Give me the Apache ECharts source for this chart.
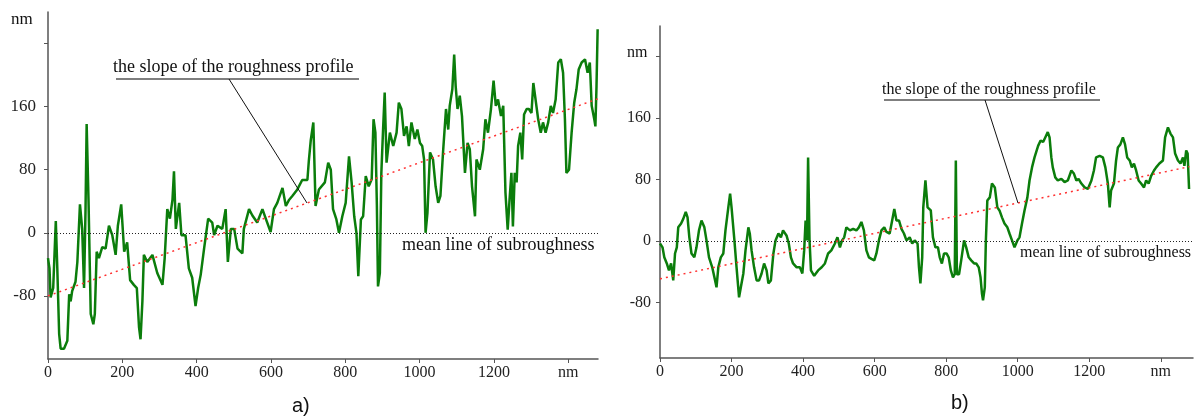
<!DOCTYPE html>
<html>
<head>
<meta charset="utf-8">
<style>
html, body { margin: 0; background: #fff; }
#container { width: 1198px; height: 419px; }
</style>
</head>
<body>
<div id="container"></div>
<script src="https://cdn.jsdelivr.net/npm/echarts@6/dist/echarts.min.js"></script>
<script>
// profile a), nm along / nm height
var profileA = [
  [0,-32],[4,-45],[7,-82],[14,-70],[21,15],[25,-45],[30,-128],[34,-147],[43,-147],[52,-137],
  [57,-78],[61,-87],[65,-74],[74,-62],[79,-37],[86,36],[92,5],[97,-70],[101,30],[104,138],
  [109,42],[115,-103],[122,-116],[126,-103],[131,-24],[137,-32],[146,-18],[155,-20],[164,9],[173,-3],
  [182,-28],[188,9],[197,36],[205,-24],[213,-12],[221,-60],[231,-66],[239,-70],[245,-120],[249,-135],
  [254,-87],[258,-28],[267,-37],[281,-28],[294,-51],[308,-66],[314,-32],[321,30],[328,18],[335,42],
  [339,78],[344,5],[353,38],[359,-3],[370,-3],[379,-45],[388,-57],[397,-93],[404,-70],[411,-53],
  [420,-20],[431,18],[442,13],[447,-3],[456,9],[469,5],[478,30],[484,-37],[492,5],[501,5],
  [510,-20],[523,-26],[527,5],[541,30],[550,22],[563,13],[577,30],[586,18],[599,1],[608,30],
  [617,38],[631,57],[640,34],[649,42],[658,47],[671,55],[684,67],[698,67],[702,92],[707,117],
  [714,140],[720,34],[729,55],[745,64],[754,89],[761,80],[767,30],[776,17],[783,0],[792,21],
  [801,38],[810,97],[817,64],[824,21],[830,0],[835,-55],[842,17],[848,21],[855,72],[863,59],
  [871,68],[876,144],[881,127],[885,34],[888,-68],[893,-51],[897,76],[902,135],[906,178],[911,89],
  [920,127],[929,110],[938,127],[944,165],[951,157],[958,123],[965,135],[971,110],[978,140],[987,119],
  [994,131],[1001,114],[1007,110],[1012,93],[1016,0],[1021,25],[1028,102],[1036,93],[1043,59],[1050,38],
  [1056,47],[1063,102],[1071,157],[1077,131],[1081,161],[1088,182],[1093,226],[1097,186],[1102,157],[1108,174],
  [1114,148],[1122,76],[1129,114],[1135,106],[1141,59],[1149,21],[1153,93],[1162,80],[1171,106],[1177,144],
  [1184,127],[1192,157],[1199,193],[1205,161],[1211,169],[1219,148],[1225,161],[1231,51],[1237,4],[1242,42],
  [1247,76],[1251,8],[1256,76],[1261,64],[1265,110],[1271,127],[1276,93],[1281,150],[1288,157],[1294,157],
  [1301,152],[1306,190],[1312,169],[1319,144],[1326,127],[1332,140],[1339,127],[1346,140],[1353,161],[1359,152],
  [1366,169],[1373,216],[1380,220],[1386,203],[1391,144],[1395,76],[1402,80],[1409,127],[1416,165],[1422,182],
  [1428,207],[1436,216],[1445,220],[1452,203],[1458,216],[1463,161],[1470,144],[1473,135],[1476,186],[1479,258]
];

// profile b)
var profileB = [
  [0,-3],[7,-8],[12,-21],[19,-29],[25,-38],[31,-29],[37,-51],[42,-16],[47,-8],[51,18],
  [59,23],[65,29],[72,38],[77,31],[82,5],[88,-16],[96,-21],[102,-8],[109,14],[116,27],
  [124,18],[130,1],[137,-21],[146,-34],[154,-51],[158,-60],[163,-34],[170,-21],[177,-16],[183,14],
  [191,44],[196,62],[200,44],[208,1],[214,-34],[221,-73],[226,-60],[233,-42],[239,-12],[247,18],
  [251,10],[256,-12],[263,-34],[270,-51],[277,-51],[284,-42],[291,-29],[298,-38],[303,-55],[310,-51],
  [317,-16],[323,1],[331,10],[338,5],[344,14],[354,7],[360,-3],[366,-21],[372,-29],[382,-34],
  [391,-34],[398,-42],[403,-12],[407,27],[411,1],[414,109],[418,1],[422,-38],[431,-45],[442,-38],
  [452,-34],[461,-29],[470,-16],[479,-12],[489,-3],[496,5],[503,-8],[509,1],[515,5],[521,18],
  [531,14],[540,16],[549,14],[556,18],[563,25],[570,14],[577,-12],[584,-21],[591,-23],[599,-25],
  [605,-16],[612,1],[619,14],[627,18],[633,12],[642,10],[649,27],[655,42],[661,27],[668,27],
  [675,16],[682,10],[689,1],[698,5],[705,-3],[712,1],[720,-3],[724,-34],[728,-55],[733,-21],
  [736,44],[742,79],[748,44],[757,40],[763,5],[770,-8],[777,-8],[782,-21],[788,-29],[794,-16],
  [801,-16],[807,-21],[813,-38],[819,-47],[824,-43],[827,105],[830,-43],[836,-43],[842,-25],[850,1],
  [856,-8],[863,-21],[870,-25],[878,-29],[884,-29],[891,-34],[896,-47],[900,-68],[903,-77],[908,-60],
  [911,1],[915,53],[922,57],[928,75],[936,70],[943,44],[949,40],[956,31],[963,23],[971,18],
  [977,10],[984,1],[991,-8],[999,1],[1005,5],[1012,23],[1019,40],[1027,57],[1033,79],[1040,96],
  [1047,109],[1057,124],[1064,131],[1071,129],[1077,135],[1084,142],[1089,135],[1094,109],[1098,96],[1105,83],
  [1112,79],[1122,81],[1131,77],[1140,79],[1150,92],[1157,88],[1164,79],[1170,81],[1178,75],[1187,70],
  [1196,68],[1206,79],[1213,92],[1219,109],[1229,111],[1238,109],[1245,96],[1252,75],[1257,44],[1261,66],
  [1269,75],[1275,105],[1280,122],[1287,126],[1294,135],[1300,126],[1306,109],[1313,105],[1319,96],[1325,101],
  [1331,92],[1338,79],[1345,75],[1353,70],[1359,79],[1366,75],[1373,85],[1381,92],[1387,96],[1396,101],
  [1406,105],[1412,135],[1420,148],[1427,140],[1434,135],[1440,114],[1448,105],[1455,101],[1462,109],[1466,98],
  [1471,118],[1475,114],[1479,68]
];

// fitted slope lines
var slopeA = [[0,-80],[1480,170]];
var slopeB = [[0,-49],[1480,97]];

var xLabels = [0,200,400,600,800,1000,1200,1400];
var yLabels = [-80,0,80,160];
var yTicks = [-80,0,80,160,240];

var serif = 'Liberation Serif';
var green = '#0b7d0b';

function xAxisFor(idx, max) {
    return {
        type: 'value', gridIndex: idx, min: 0, max: max,
        axisLine: { onZero: false, lineStyle: { color: '#555', width: 1.5 } },
        axisTick: { customValues: xLabels, length: 4, lineStyle: { color: '#555' } },
        axisLabel: {
            customValues: xLabels, margin: 6, color: '#222',
            fontFamily: serif, fontSize: 16,
            formatter: function (v) { return v === 1400 ? 'nm' : v; }
        },
        splitLine: { show: false }
    };
}
function yAxisFor(idx, min, margin, size) {
    return {
        type: 'value', gridIndex: idx, min: min, max: 280,
        axisLine: { show: true, lineStyle: { color: '#555', width: 1.5 } },
        axisTick: { show: true, customValues: yTicks, length: 4, lineStyle: { color: '#555' } },
        axisLabel: {
            customValues: yLabels, margin: margin, color: '#222',
            fontFamily: serif, fontSize: size
        },
        splitLine: { show: false }
    };
}
function profileSeries(idx, data) {
    return {
        type: 'line', xAxisIndex: idx, yAxisIndex: idx, data: data,
        showSymbol: false, z: 2,
        lineStyle: { color: green, width: 2.5 },
        markLine: {
            silent: true, symbol: ['none', 'none'], z: 4,
            label: { show: false },
            lineStyle: { color: '#222', type: [1, 2], width: 1 },
            data: [{ yAxis: 0 }]
        }
    };
}
function slopeSeries(idx, data) {
    return {
        type: 'line', xAxisIndex: idx, yAxisIndex: idx, data: data,
        showSymbol: false, z: 5,
        lineStyle: { color: '#ff3030', type: [2, 4], width: 1.5 }
    };
}
function note(x, y, text, size) {
    return { type: 'text', x: x, y: y, style: { text: text, fontFamily: serif, fontSize: size, fill: '#111', verticalAlign: 'middle' } };
}
function seg(x1, y1, x2, y2, color, w) {
    return { type: 'line', shape: { x1: x1, y1: y1, x2: x2, y2: y2 }, style: { stroke: color, lineWidth: w }, z: 10 };
}

var chart = echarts.init(document.getElementById('container'));
var option = {
    animation: false,
    backgroundColor: '#fff',
    grid: [
        { left: 48, top: 12, width: 550, height: 347 },
        { left: 660, top: 26, width: 533, height: 332 }
    ],
    xAxis: [xAxisFor(0, 1480), xAxisFor(1, 1490)],
    yAxis: [yAxisFor(0, -160, 12, 17), yAxisFor(1, -152, 9, 16)],
    series: [
        profileSeries(0, profileA), slopeSeries(0, slopeA),
        profileSeries(1, profileB), slopeSeries(1, slopeB)
    ],
    graphic: [
        note(11, 20, 'nm', 17),
        note(627, 53, 'nm', 16),
        note(113, 67, 'the slope of the roughness profile', 18),
        seg(116, 79, 359, 79, '#555', 1.5),
        seg(229, 79, 307, 203, '#111', 1),
        note(402, 245, 'mean line of subroughness', 18),
        note(882, 90, 'the slope of the roughness profile', 16),
        seg(884, 100, 1100, 100, '#555', 1.5),
        seg(985, 100, 1018, 203, '#111', 1),
        note(1020, 253, 'mean line of subroughness', 16),
        { type: 'text', x: 292, y: 406, style: { text: 'a)', fontFamily: 'Liberation Sans', fontSize: 20, fill: '#111', verticalAlign: 'middle' } },
        { type: 'text', x: 951, y: 403, style: { text: 'b)', fontFamily: 'Liberation Sans', fontSize: 20, fill: '#111', verticalAlign: 'middle' } }
    ]
};
chart.setOption(option);
</script>
</body>
</html>
